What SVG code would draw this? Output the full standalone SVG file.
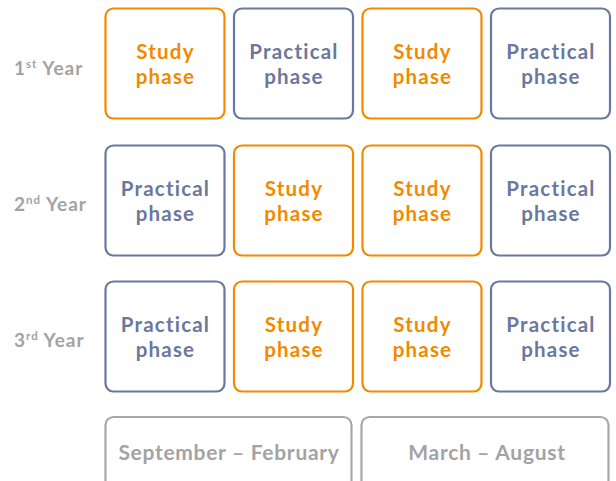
<svg xmlns="http://www.w3.org/2000/svg" width="616" height="481" viewBox="0 0 616 481">
<style>
.box{fill:#fff;stroke-width:2.2}
.study rect{stroke:#F28A00}
.study text{fill:#F28A00}
.prac rect{stroke:#6B779C}
.prac text{fill:#6B779C}
.lbl{font-family:Lato,"Open Sans",sans-serif;font-weight:700;font-size:20.5px;letter-spacing:1.2px;text-anchor:middle}
.yr{font-family:Lato,"Open Sans",sans-serif;font-weight:700;font-size:19px;letter-spacing:1px;fill:#A3A3A3}
.per rect{fill:#fff;stroke:#A8A8A8;stroke-width:2.2}
.per text{fill:#A3A3A3;font-size:21px;letter-spacing:0.7px}
</style>
<rect width="616" height="481" fill="#fff"/>
<g id="year1"><text class="yr" x="14" y="75">1<tspan font-size="11.5" dy="-7">st</tspan><tspan dy="7"> Year</tspan></text></g>
<g id="year2"><text class="yr" x="14" y="211">2<tspan font-size="11.5" dy="-7">nd</tspan><tspan dy="7"> Year</tspan></text></g>
<g id="year3"><text class="yr" x="14" y="347">3<tspan font-size="11.5" dy="-7">rd</tspan><tspan dy="7"> Year</tspan></text></g>

<g id="r1c1" class="study"><rect class="box" x="105.5" y="8.5" width="119" height="110" rx="8"/><text class="lbl" x="165.5" y="59">Study<tspan x="165.5" dy="25">phase</tspan></text></g>
<g id="r1c2" class="prac"><rect class="box" x="234" y="8.5" width="119" height="110" rx="8"/><text class="lbl" x="294" y="59">Practical<tspan x="294" dy="25">phase</tspan></text></g>
<g id="r1c3" class="study"><rect class="box" x="362.5" y="8.5" width="119" height="110" rx="8"/><text class="lbl" x="422.5" y="59">Study<tspan x="422.5" dy="25">phase</tspan></text></g>
<g id="r1c4" class="prac"><rect class="box" x="491" y="8.5" width="119" height="110" rx="8"/><text class="lbl" x="551" y="59">Practical<tspan x="551" dy="25">phase</tspan></text></g>

<g id="r2c1" class="prac"><rect class="box" x="105.5" y="145.5" width="119" height="110" rx="8"/><text class="lbl" x="165.5" y="196">Practical<tspan x="165.5" dy="25">phase</tspan></text></g>
<g id="r2c2" class="study"><rect class="box" x="234" y="145.5" width="119" height="110" rx="8"/><text class="lbl" x="294" y="196">Study<tspan x="294" dy="25">phase</tspan></text></g>
<g id="r2c3" class="study"><rect class="box" x="362.5" y="145.5" width="119" height="110" rx="8"/><text class="lbl" x="422.5" y="196">Study<tspan x="422.5" dy="25">phase</tspan></text></g>
<g id="r2c4" class="prac"><rect class="box" x="491" y="145.5" width="119" height="110" rx="8"/><text class="lbl" x="551" y="196">Practical<tspan x="551" dy="25">phase</tspan></text></g>

<g id="r3c1" class="prac"><rect class="box" x="105.5" y="281.5" width="119" height="110" rx="8"/><text class="lbl" x="165.5" y="332">Practical<tspan x="165.5" dy="25">phase</tspan></text></g>
<g id="r3c2" class="study"><rect class="box" x="234" y="281.5" width="119" height="110" rx="8"/><text class="lbl" x="294" y="332">Study<tspan x="294" dy="25">phase</tspan></text></g>
<g id="r3c3" class="study"><rect class="box" x="362.5" y="281.5" width="119" height="110" rx="8"/><text class="lbl" x="422.5" y="332">Study<tspan x="422.5" dy="25">phase</tspan></text></g>
<g id="r3c4" class="prac"><rect class="box" x="491" y="281.5" width="119" height="110" rx="8"/><text class="lbl" x="551" y="332">Practical<tspan x="551" dy="25">phase</tspan></text></g>

<g id="sepfeb" class="per"><rect x="105.5" y="417" width="246" height="80" rx="8"/><text class="lbl" x="229" y="460">September – February</text></g>
<g id="maraug" class="per"><rect x="361.5" y="417" width="247" height="80" rx="8"/><text class="lbl" x="487" y="460">March – August</text></g>
</svg>
